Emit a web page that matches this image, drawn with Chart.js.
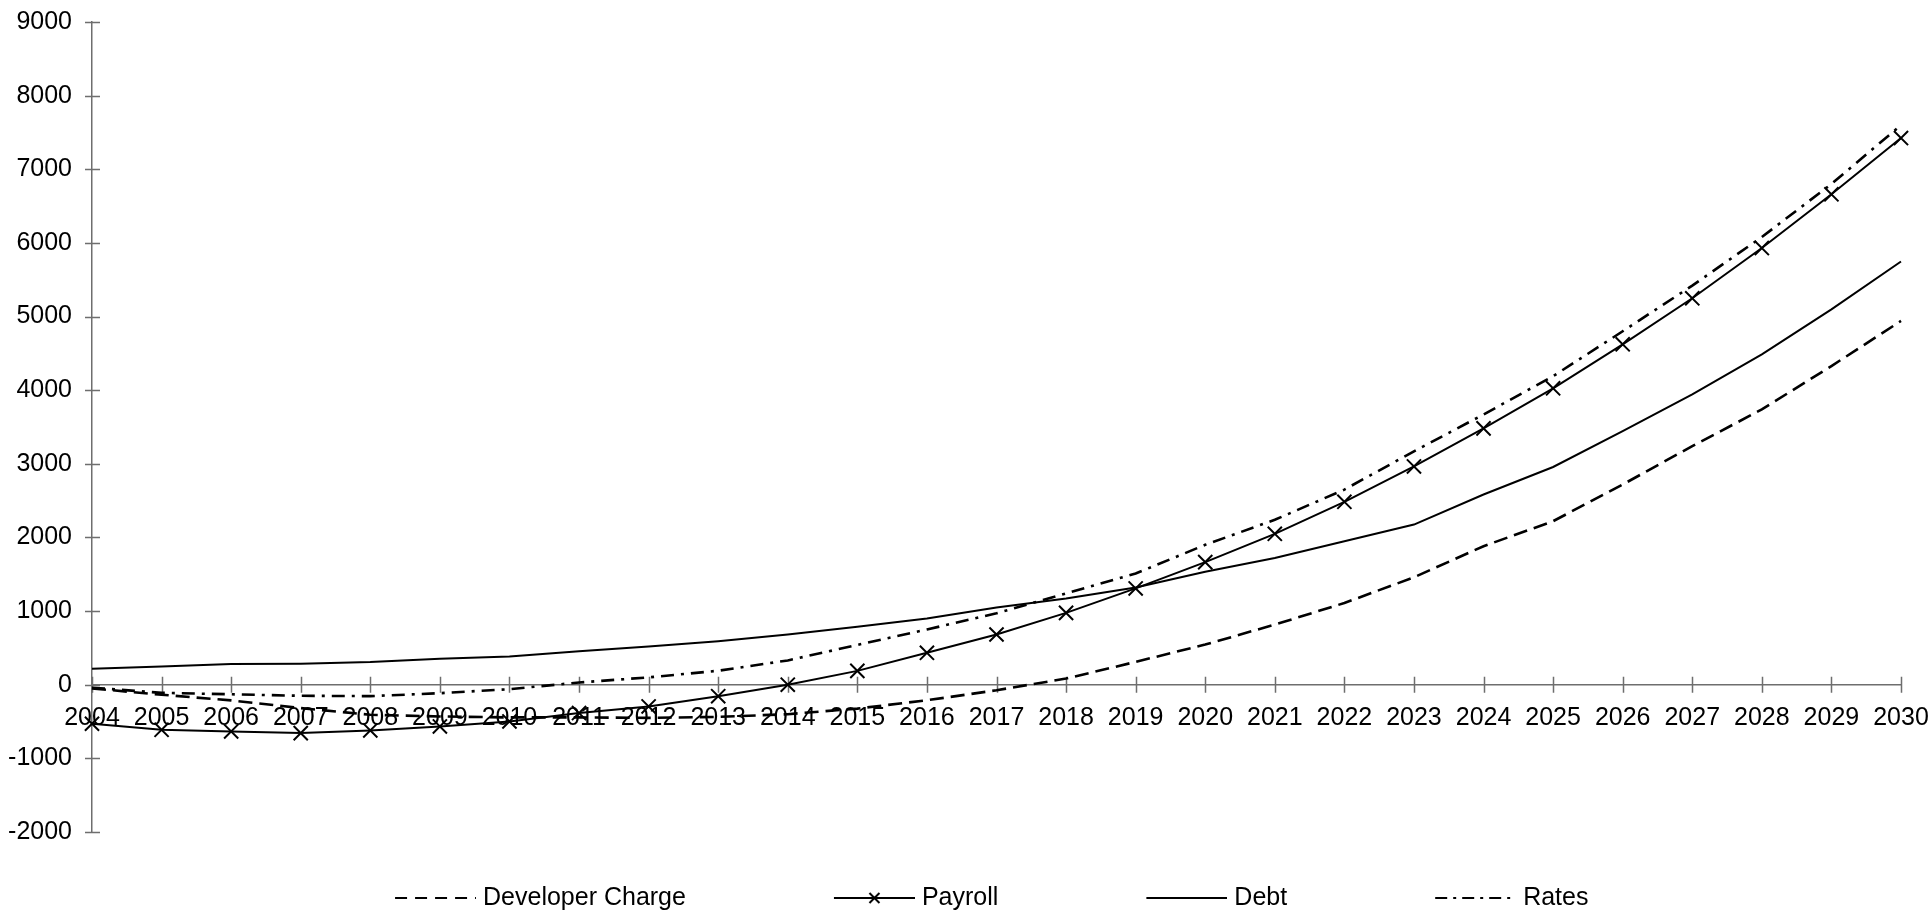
<!DOCTYPE html>
<html>
<head>
<meta charset="utf-8">
<script src="https://cdn.jsdelivr.net/npm/chart.js@4.4.1/dist/chart.umd.min.js"></script>
<style>
  html, body { margin: 0; padding: 0; background: #ffffff; }
  #wrap { position: relative; width: 1932px; height: 916px; }
</style>
</head>
<body>
<div id="wrap"><canvas id="chart"></canvas></div>
<script>
// ---- data ----
const years = ['2004','2005','2006','2007','2008','2009','2010','2011','2012','2013','2014','2015','2016','2017','2018','2019','2020','2021','2022','2023','2024','2025','2026','2027','2028','2029','2030'];
const developerCharge = [-50, -136, -213, -317, -408, -431, -444, -444, -450, -437, -400, -324, -211, -75, 84, 310, 546, 816, 1110, 1459, 1881, 2221, 2719, 3240, 3739, 4328, 4940];
const payroll = [-530, -612, -635, -657, -621, -567, -499, -385, -295, -156, 0, 188, 433, 682, 976, 1308, 1665, 2049, 2484, 2964, 3481, 4025, 4623, 5248, 5930, 6660, 7424];
const debt = [218, 249, 281, 285, 308, 353, 385, 453, 520, 591, 682, 786, 900, 1049, 1172, 1321, 1535, 1722, 1949, 2175, 2583, 2957, 3444, 3943, 4487, 5098, 5747];
const rates = [-40, -110, -130, -150, -155, -115, -60, 30, 100, 190, 330, 540, 750, 970, 1240, 1510, 1900, 2240, 2650, 3170, 3670, 4190, 4800, 5420, 6080, 6800, 7600];
const seriesNames = ['Developer Charge', 'Payroll', 'Debt', 'Rates'];
const yMin = -2000, yMax = 9000, yStep = 1000;

// ---- styles ----
const FONT = "'Liberation Sans', Arial, Helvetica, sans-serif";
const FONT_SIZE = 25;
const AXIS_COLOR = '#6e6e6e';
const DASH_DEV = [14, 7];
const DASH_RATES = [13, 7, 3, 7];

const LEG_PAD = 53.5;
const LEG_BOX = 170;

Chart.defaults.font.family = FONT;
Chart.defaults.font.size = FONT_SIZE;
Chart.defaults.color = '#000000';

// legend line samples drawn into small canvases
function makeSample(kind) {
  const w = LEG_BOX + 11, h = 20;
  const c = document.createElement('canvas');
  c.width = w; c.height = h;
  const g = c.getContext('2d');
  const x1 = w - 81, x2 = w, cy = h / 2;
  g.strokeStyle = '#000';
  g.lineWidth = 2;
  if (kind === 'dev') g.setLineDash([12, 8]);
  if (kind === 'rates') g.setLineDash([12, 6, 3, 6]);
  g.beginPath(); g.moveTo(x1, cy); g.lineTo(x2, cy); g.stroke();
  if (kind === 'payroll') {
    g.setLineDash([]);
    const mx = (x1 + x2) / 2, r = 5;
    g.beginPath();
    g.moveTo(mx - r, cy - r); g.lineTo(mx + r, cy + r);
    g.moveTo(mx - r, cy + r); g.lineTo(mx + r, cy - r);
    g.stroke();
  }
  return c;
}
const samples = [makeSample('dev'), makeSample('payroll'), makeSample('debt'), makeSample('rates')];

const tickMarks = {
  id: 'tickMarks',
  beforeDatasetsDraw(chart) {
    const { ctx, scales: { x, y } } = chart;
    const ax = y.right;
    const ay = y.getPixelForValue(0);
    ctx.save();
    ctx.strokeStyle = AXIS_COLOR;
    ctx.lineWidth = 1.5;
    ctx.beginPath();
    y.ticks.forEach(t => {
      const py = Math.round(y.getPixelForValue(t.value)) + 0.5;
      ctx.moveTo(ax - 7, py); ctx.lineTo(ax + 8, py);
    });
    x.ticks.forEach((t, i) => {
      const px = Math.round(x.getPixelForTick(i)) + 0.5;
      ctx.moveTo(px, ay - 8); ctx.lineTo(px, ay + 8);
    });
    ctx.stroke();
    ctx.restore();
  }
};

new Chart(document.getElementById('chart'), {
  type: 'line',
  data: {
    labels: years,
    datasets: [
      { label: seriesNames[0], data: developerCharge, borderColor: '#000', borderWidth: 2.6, borderDash: DASH_DEV, pointRadius: 0, fill: false },
      { label: seriesNames[1], data: payroll, borderColor: '#000', borderWidth: 2, pointStyle: 'crossRot', pointRadius: 10, pointBorderWidth: 2, pointBorderColor: '#000', pointBackgroundColor: '#000', fill: false },
      { label: seriesNames[2], data: debt, borderColor: '#000', borderWidth: 2, pointRadius: 0, fill: false },
      { label: seriesNames[3], data: rates, borderColor: '#000', borderWidth: 2.6, borderDash: DASH_RATES, pointRadius: 0, fill: false }
    ]
  },
  options: {
    responsive: true,
    maintainAspectRatio: false,
    animation: false,
    elements: { line: { tension: 0 } },
    layout: { padding: { left: -12, right: 31, top: 22, bottom: -4.5 } },
    scales: {
      x: {
        type: 'category',
        position: { y: 0 },
        offset: false,
        grid: { display: false, drawTicks: true, tickLength: 18 },
        border: { display: true, color: AXIS_COLOR, width: 1.5 },
        ticks: { autoSkip: false, maxRotation: 0, minRotation: 0, padding: 0, color: '#000' }
      },
      y: {
        type: 'linear',
        position: 'left',
        min: yMin, max: yMax,
        grid: { display: false, drawTicks: true, tickLength: 20 },
        border: { display: true, color: AXIS_COLOR, width: 1.5 },
        ticks: { stepSize: yStep, padding: 0, color: '#000', callback: (v) => String(v) },
        afterFit(scale) { scale.width = 104; }
      }
    },
    plugins: {
      tooltip: { enabled: false },
      legend: {
        display: true,
        position: 'bottom',
        align: 'center',
        labels: {
          usePointStyle: true,
          pointStyleWidth: LEG_BOX,
          padding: LEG_PAD,
          color: '#000',
          font: { size: FONT_SIZE },
          generateLabels: (chart) => chart.data.datasets.map((ds, i) => ({
            text: ds.label,
            pointStyle: samples[i],
            fillStyle: 'rgba(0,0,0,0)',
            strokeStyle: 'rgba(0,0,0,0)',
            lineWidth: 0,
            hidden: false,
            datasetIndex: i,
            fontColor: '#000'
          }))
        }
      }
    }
  },
  plugins: [tickMarks]
});
</script>
</body>
</html>
